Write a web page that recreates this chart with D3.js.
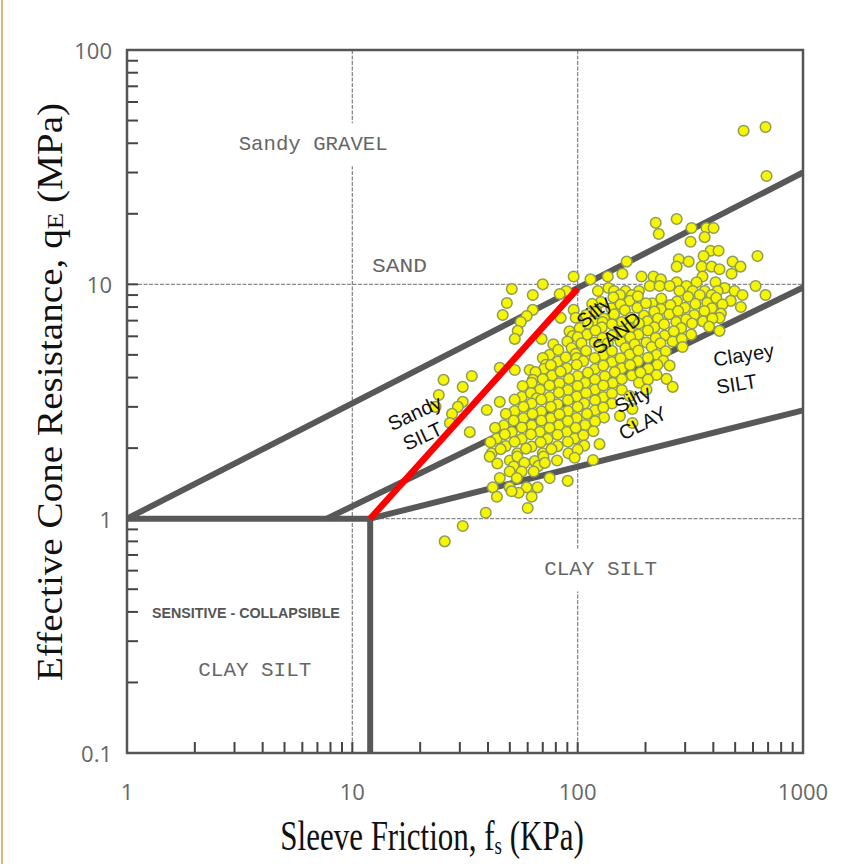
<!DOCTYPE html>
<html><head><meta charset="utf-8">
<script src="https://cdn.jsdelivr.net/npm/d3@7"></script>
<style>html,body{margin:0;padding:0;background:#fff}svg{display:block}</style>
</head><body>
<svg id="chart" width="860" height="864"></svg>
<script>
// ---------------- DATA ----------------
const xTickValues = [1, 10, 100, 1000];
const xTickLabels = ["1", "10", "100", "1000"];
const yTickValues = [0.1, 1, 10, 100];
const yTickLabels = ["0.1", "1", "10", "100"];
const gridX = [10, 100];
const gridY = [1, 10];

// zone boundaries, [fs (kPa), qE (MPa)]
const boundaryUpper  = [[1, 1], [1000, 30]];
const boundaryMiddle = [[7.7, 1], [1000, 9.7]];
const boundaryLower  = [[12, 1], [1000, 2.9]];
const boundaryFloor  = [[1, 1], [12, 1]];
const boundaryWall   = [[12, 1], [12, 0.1]];
const redTrend       = [[12, 1], [100, 9.6]];

// CPT samples, [fs (kPa), qE (MPa)]
const samples = [
[682,46.9],[545,45.2],[689,29.0],
[275,19.0],[222,18.3],[320,17.4],[373,17.4],[401,17.4],[229,16.4],[366,15.9],[317,15.2],
[389,13.9],[422,13.9],[362,13.2],[628,13.2],[281,12.8],[165,12.5],[311,12.5],[487,12.5],
[275,11.9],[355,11.9],[393,11.9],[528,11.9],[426,11.6],[158,11.1],[482,11.1],
[96,10.8],[136,10.8],[192,10.8],[217,10.8],[358,10.8],[114,10.5],[234,10.5],
[275,10.2],[337,10.2],[409,10.2],[70,10.0],
[209,9.84],[231,9.84],[256,9.84],[304,9.84],[616,9.84],[137,9.65],[449,9.65],[51,9.55],
[89,9.37],[497,9.37],[123,9.37],[145,9.37],[163,9.37],[187,9.37],[283,9.37],[324,9.37],[366,9.37],[418,9.37],
[83.2,9.1],[63.2,9.0],[539,9.0],[682,9.0],[154,9.0],[174,9.0],[348,9.0],[393,9.0],
[127,8.4],[144,8.8],[170,8.5],[185,8.9],[214,8.3],[235,8.7],[276,8.45],[309,8.85],[376,8.35],[412,8.75],[478,8.5],
[48.5,8.33],
[116,8.25],[141,7.9],[155,8.2],[184,7.95],[201,8.3],[234,7.85],[258,8.15],[299,7.95],[333,8.25],[394,7.9],[439,8.2],[530,8.0],
[63.2,7.78],[96,7.78],
[109,7.4],[121,7.7],[145,7.45],[162,7.75],[197,7.35],[219,7.65],[255,7.45],[279,7.7],[329,7.4],[365,7.7],[432,7.5],
[46.5,7.4],[59.4,7.33],[84.1,7.19],[426,7.19],
[98,7.2],[117,6.95],[131,7.15],[157,6.9],[172,7.2],[204,6.95],[227,7.15],[274,6.9],[303,7.1],[360,6.95],[396,7.15],
[55.9,6.91],[129,6.91],
[102,6.5],[111,6.8],[128,6.55],[142,6.75],[170,6.5],[187,6.8],[219,6.55],[242,6.75],[288,6.5],[322,6.8],[383,6.6],
[54.2,6.33],[426,6.33],
[92,6.3],[110,6.1],[120,6.35],[142,6.05],[157,6.3],[186,6.1],[205,6.35],[243,6.05],[267,6.3],[319,6.1],
[95,6.02],[52.6,5.85],[69.2,5.85],
[90,5.7],[100,5.95],[119,5.65],[129,5.9],[155,5.7],[171,5.95],[202,5.65],[222,5.9],[264,5.7],[290,5.85],
[78,5.55],[94,5.35],[104,5.6],[125,5.4],[136,5.6],[163,5.35],[179,5.55],[213,5.4],[233,5.6],[292,5.4],
[75,5.0],[82,5.25],[98,5.05],[109,5.2],[130,4.98],[142,5.2],[170,5.02],[186,5.22],[224,5.0],[246,5.18],
[99,4.85],
[70,4.85],[81.5,4.68],[88.5,4.88],[106,4.7],[119,4.85],[142,4.66],[155,4.84],[185,4.7],[205,4.86],[240,4.72],
[72.1,4.53],[226,4.53],
[71,4.36],[76,4.52],[89.5,4.38],[99,4.54],[119.5,4.35],[130,4.5],[157,4.38],[171,4.52],[206,4.36],[256,4.5],
[45.1,4.4],[52.6,4.31],[61.2,4.31],
[65,4.22],[77,4.08],[84,4.24],[100,4.06],[111,4.2],[132,4.05],[146,4.22],[174,4.08],[190,4.2],[224,4.1],
[33.9,4.06],[248,3.95],[25.4,3.91],[63.2,3.91],
[62.5,3.8],[70,3.94],[83,3.78],[91.5,3.95],[108,3.8],[119.5,3.92],[143,3.79],[157,3.94],[187,3.8],[205,3.92],
[30.9,3.65],
[57,3.68],[68,3.55],[75,3.7],[90.5,3.54],[100,3.68],[119.5,3.56],[130,3.7],[157,3.54],[264,3.65],[202,3.56],
[24.2,3.37],[56.5,3.31],[62,3.44],[75,3.3],[82.5,3.45],[99,3.32],[109,3.44],[130,3.3],[142,3.42],[170,3.34],
[65.8,3.26],
[30.9,3.15],[45.1,3.15],[52.5,3.22],[62.5,3.1],[69,3.22],[81.5,3.08],[90.5,3.2],[107,3.1],[119.5,3.2],[142,3.1],
[23.4,3.0],[29.4,3.0],
[52.5,2.88],[57.5,3.0],[69,2.87],[76,3.0],[90.5,2.88],[100,3.0],[119.5,2.9],[130,2.98],[175,2.94],
[39.5,2.91],[27.7,2.8],
[48,2.8],[57.5,2.69],[63,2.8],[76,2.68],[83,2.79],[99,2.69],[110,2.8],[131,2.7],[154,2.74],
[27.1,2.56],[47,2.5],[52,2.62],[62.5,2.5],[69,2.62],[82.5,2.5],[90.5,2.61],[108,2.51],[119.5,2.6],[175,2.56],
[43,2.44],[51,2.34],[56.5,2.45],[68,2.35],[75,2.44],[89.5,2.34],[98,2.44],[117.5,2.36],
[33.2,2.34],
[43.8,2.2],[47.5,2.29],[56.5,2.19],[62,2.29],[73.5,2.19],[81.5,2.28],[97,2.2],[106,2.27],
[41,2.12],[48,2.04],[52.5,2.13],[62.5,2.03],[68.5,2.12],[81.5,2.04],[90.5,2.13],[107,2.05],[125,2.08],
[41.5,1.9],[45.5,1.98],[54,1.9],[59,1.99],[70,1.9],[76.5,1.98],[91,1.9],[100,1.97],
[40.7,1.84],[50,1.77],[54,1.84],[64.5,1.76],[70.5,1.84],[81,1.77],[97,1.82],[117,1.78],
[44,1.72],[52,1.67],[58,1.73],[67,1.68],[71.5,1.73],
[49.9,1.59],[56.4,1.59],[63.8,1.59],
[45.1,1.49],[53.7,1.49],[75.1,1.49],[90.3,1.45],
[42,1.36],[49.9,1.36],[59.4,1.36],[66.4,1.36],
[54.7,1.29],[50.9,1.31],[43.8,1.24],[62.5,1.24],[60,1.11],[39.1,1.06],[30.9,0.93],[25.7,0.8]
];

// zone label texts
const zoneGrayLabels = ["Sandy GRAVEL", "SAND", "CLAY  SILT", "CLAY  SILT"];
const sensitiveLabel = "SENSITIVE - COLLAPSIBLE";
const zoneBlackLabels = ["Sandy", "SILT", "Silty", "SAND", "Silty", "CLAY", "Clayey", "SILT"];
const xTitle = ["Sleeve Friction, f", "s", " (KPa)"];
const yTitle = ["Effective Cone Resistance, q", "E", " (MPa)"];

// ---------------- DRAW ----------------
const svg = d3.select("#chart");
const L = 127, R = 803, T = 50, B = 753;
const x = d3.scaleLog().domain([1, 1000]).range([L, R]);
const y = d3.scaleLog().domain([0.1, 100]).range([B, T]);
const line = d3.line().x(d => x(d[0])).y(d => y(d[1]));

svg.append("rect").attr("width", 860).attr("height", 864).attr("fill", "#fff");
svg.append("line").attr("x1", 2).attr("x2", 2).attr("y1", 0).attr("y2", 864)
  .attr("stroke", "#d8b878").attr("stroke-width", 2);

// grid
const g = svg.append("g");
g.selectAll(".gx").data(gridX).enter().append("line")
  .attr("x1", d => x(d)).attr("x2", d => x(d)).attr("y1", T).attr("y2", B)
  .attr("stroke", "#8a8a8a").attr("stroke-width", 1.3).attr("stroke-dasharray", "4,1.5");
g.selectAll(".gy").data(gridY).enter().append("line")
  .attr("x1", L).attr("x2", R).attr("y1", d => y(d)).attr("y2", d => y(d))
  .attr("stroke", "#8a8a8a").attr("stroke-width", 1.3).attr("stroke-dasharray", "4,1.5");

// ticks (inside)
const minorY = [];
[0.1, 1, 10].forEach(b => { for (let k = 2; k <= 9; k++) minorY.push(+(b * k).toPrecision(3)); });
const minorX = [];
[1, 10, 100].forEach(b => { for (let k = 2; k <= 9; k++) minorX.push(b * k); });
g.selectAll(".ty").data(minorY.concat([1, 10])).enter().append("line")
  .attr("x1", L).attr("x2", L + 11).attr("y1", d => y(d)).attr("y2", d => y(d))
  .attr("stroke", "#444").attr("stroke-width", 2);
g.selectAll(".tx").data(minorX.concat([10, 100])).enter().append("line")
  .attr("x1", d => x(d)).attr("x2", d => x(d)).attr("y1", B).attr("y2", B - 11)
  .attr("stroke", "#444").attr("stroke-width", 2);

// zone boundaries
const gray = "#585858";
[boundaryUpper, boundaryMiddle, boundaryLower, boundaryFloor, boundaryWall].forEach(seg => {
  svg.append("path").attr("d", line(seg)).attr("fill", "none")
    .attr("stroke", gray).attr("stroke-width", 6).attr("stroke-linecap", "butt");
});

// frame
svg.append("rect").attr("x", L).attr("y", T).attr("width", R - L).attr("height", B - T)
  .attr("fill", "none").attr("stroke", "#555").attr("stroke-width", 2.5);

// gray zone labels (white background where they cross a grid line)
function grayLabel(text, fs, qe, width, bg) {
  const t = svg.append("text").attr("x", x(fs)).attr("y", y(qe))
    .attr("text-anchor", "middle").attr("dominant-baseline", "central")
    .attr("font-family", "'Liberation Mono', 'DejaVu Sans Mono', monospace")
    .attr("font-size", 21).attr("fill", "#666")
    .attr("textLength", width).attr("lengthAdjust", "spacingAndGlyphs").text(text);
  if (bg) {
    const bb = t.node().getBBox();
    svg.insert("rect", "text").attr("x", bb.x - 6).attr("y", bb.y - 10)
      .attr("width", bb.width + 12).attr("height", bb.height + 20).attr("fill", "#fff");
  }
  return t;
}
grayLabel(zoneGrayLabels[0], 6.7, 39.4, 149, true);
grayLabel(zoneGrayLabels[1], 16.2, 11.87, 55, false);
grayLabel(zoneGrayLabels[2], 126.5, 0.604, 113, true);
grayLabel(zoneGrayLabels[3], 3.69, 0.226, 113, false);
svg.append("text").attr("x", x(3.37)).attr("y", y(0.394))
  .attr("text-anchor", "middle").attr("dominant-baseline", "central")
  .attr("font-family", "'Liberation Sans', Arial, sans-serif").attr("font-weight", "bold")
  .attr("font-size", 14).attr("fill", "#555")
  .attr("textLength", 188).attr("lengthAdjust", "spacingAndGlyphs").text(sensitiveLabel);

// points
svg.append("g").selectAll("circle").data(samples).enter().append("circle")
  .attr("cx", d => x(d[0])).attr("cy", d => y(d[1])).attr("r", 5.3)
  .attr("fill", "#f6f600").attr("stroke", "#8e9c58").attr("stroke-width", 1.5);

// red trend line
svg.append("path").attr("d", line(redTrend)).attr("fill", "none")
  .attr("stroke", "#ff0000").attr("stroke-width", 6.5);

// black rotated zone labels
const blackPos = [[18.9, 2.83, -25], [20.5, 2.25, -25], [117.8, 7.63, -40], [148.9, 6.2, -38],
                  [175.4, 3.24, -27], [194.2, 2.56, -27], [544.8, 5.0, -9], [507, 3.76, -9]];
zoneBlackLabels.forEach((t, i) => {
  const [fx, qy, ang] = blackPos[i];
  svg.append("text")
    .attr("transform", `translate(${x(fx)},${y(qy)}) rotate(${ang})`)
    .attr("text-anchor", "middle").attr("dominant-baseline", "central")
    .attr("font-family", "'Liberation Sans', Arial, sans-serif")
    .attr("font-size", 20).attr("fill", "#111").text(t);
});

// tick labels
const tickFont = "'Open Sans', 'Noto Sans', sans-serif";
svg.selectAll(".xl").data(xTickValues).enter().append("text")
  .attr("x", d => x(d)).attr("y", 791).attr("text-anchor", "middle").attr("dominant-baseline", "central")
  .attr("font-family", tickFont).attr("font-size", 22).attr("fill", "#666")
  .text((d, i) => xTickLabels[i]);
svg.selectAll(".yl").data(yTickValues).enter().append("text")
  .attr("x", 112).attr("y", d => y(d)).attr("text-anchor", "end").attr("dominant-baseline", "central")
  .attr("font-family", tickFont).attr("font-size", 22).attr("fill", "#666")
  .text((d, i) => yTickLabels[i]);

// axis titles
const serif = "'Liberation Serif', 'Times New Roman', serif";
const xt = svg.append("text").attr("transform", "translate(432,850) scale(1,1.38)")
  .attr("text-anchor", "middle").attr("font-family", serif).attr("font-size", 31).attr("fill", "#111");
xt.append("tspan").text(xTitle[0]);
xt.append("tspan").attr("font-size", 19).attr("dy", 3).text(xTitle[1]);
xt.append("tspan").attr("dy", -3).text(xTitle[2]);

const yt = svg.append("text").attr("transform", "translate(62,392) rotate(-90) scale(1.12,1)")
  .attr("text-anchor", "middle").attr("font-family", serif).attr("font-size", 35).attr("fill", "#111");
yt.append("tspan").text(yTitle[0]);
yt.append("tspan").attr("font-size", 24).attr("dy", 1).text(yTitle[1]);
yt.append("tspan").attr("dy", -1).text(yTitle[2]);
</script>
</body></html>
